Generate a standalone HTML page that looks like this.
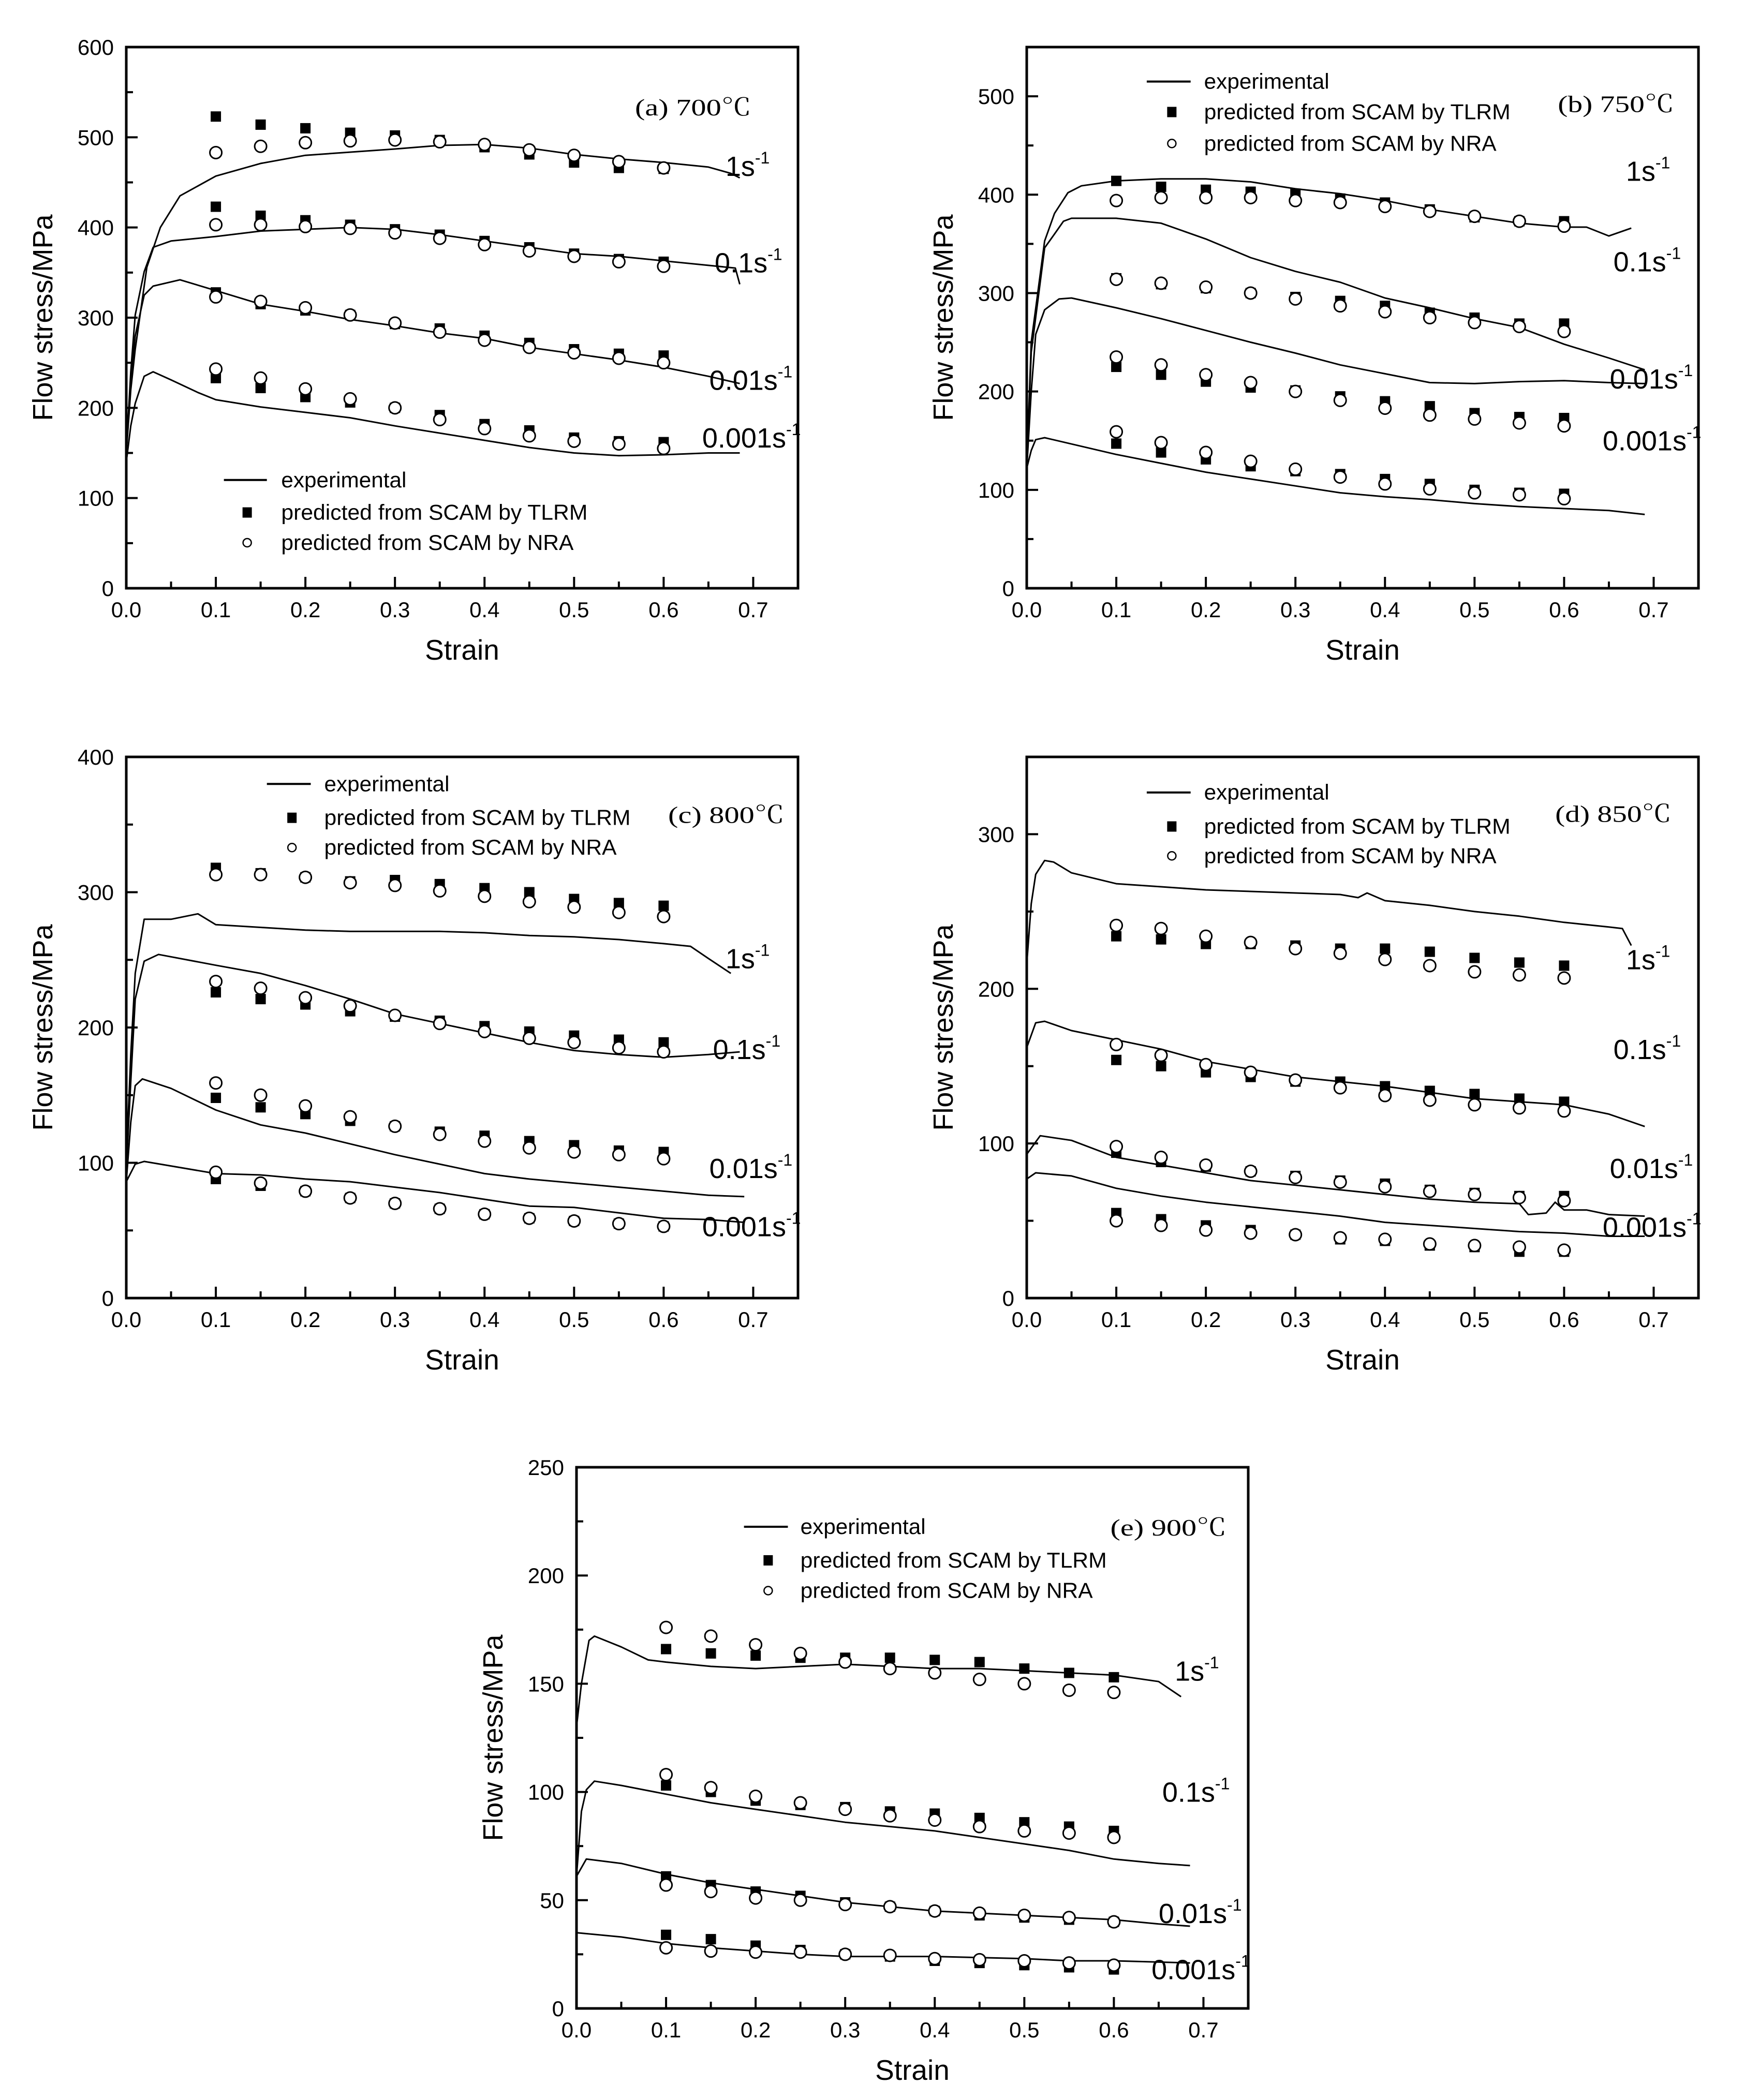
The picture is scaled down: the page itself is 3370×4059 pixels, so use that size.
<!DOCTYPE html>
<html><head><meta charset="utf-8">
<style>
html,body{margin:0;padding:0;background:#fff;}
svg{display:block;}
text{font-family:"Liberation Sans","Noto Sans CJK SC",sans-serif;fill:#000;}
.serif{font-family:"Liberation Serif","Noto Serif CJK SC",serif;}
</style></head>
<body>
<svg id="fig" xmlns="http://www.w3.org/2000/svg" width="3370" height="4059" viewBox="0 0 3370 4059"></svg>
<script>
// ---- shared data ----
const markerStrain = [0.1,0.15,0.2,0.25,0.3,0.35,0.4,0.45,0.5,0.55,0.6];
const xTicks = [0,0.1,0.2,0.3,0.4,0.5,0.6,0.7];
const xTickLabels = ["0.0","0.1","0.2","0.3","0.4","0.5","0.6","0.7"];
const rateLabels = ["1","0.1","0.01","0.001"];

// ---- panel (a) 700C ----
const a_r1_x = [0,0.005,0.01,0.023,0.038,0.06,0.1,0.15,0.2,0.3,0.35,0.4,0.45,0.5,0.55,0.6,0.65,0.675,0.685];
const a_r1_y = [150,220,265,356,400,435,457,471,480,487,491,492,488,481,476,472,467,460,455];
const a_r2_x = [0,0.005,0.01,0.02,0.03,0.05,0.1,0.15,0.2,0.25,0.3,0.35,0.4,0.45,0.5,0.55,0.6,0.65,0.68,0.685];
const a_r2_y = [150,240,303,351,378,385,390,396,398,400,398,392,385,378,371,368,363,358,355,337];
const a_r3_x = [0,0.005,0.01,0.02,0.03,0.06,0.1,0.15,0.2,0.25,0.3,0.35,0.4,0.45,0.5,0.55,0.6,0.65,0.685];
const a_r3_y = [150,230,280,325,335,342,330,315,307,298,291,283,277,267,260,253,245,235,227];
const a_r4_x = [0,0.005,0.01,0.02,0.03,0.05,0.08,0.1,0.15,0.2,0.25,0.3,0.35,0.4,0.45,0.5,0.55,0.6,0.65,0.685];
const a_r4_y = [140,180,205,235,240,231,217,209,201,195,189,180,172,164,156,150,147,148,150,150];
const a_tlrm = [[523,514,510,505,502,497,489,481,472,466,465],[423,413,408,403,398,392,385,378,371,365,362],[328,315,308,303,293,288,280,272,265,260,258],[233,222,212,206,200,192,182,175,167,163,162]];
const a_nra = [[483,490,494,496,497,495,492,486,480,473,466],[403,403,401,399,394,388,381,374,368,362,357],[323,318,311,303,294,284,275,267,261,255,250],[243,233,221,210,200,187,177,169,163,160,155]];
const a_yTicks = [0,100,200,300,400,500,600];

// ---- panel (b) 750C ----
const b_r1_x = [0,0.005,0.02,0.031,0.046,0.061,0.1,0.15,0.2,0.25,0.3,0.35,0.4,0.45,0.5,0.55,0.6,0.625,0.65,0.675];
const b_r1_y = [121,250,353,381,402,409,414,416,416,413,406,401,394,385,378,371,367,367,358,366];
const b_r2_x = [0,0.005,0.02,0.031,0.041,0.05,0.1,0.15,0.2,0.25,0.3,0.35,0.4,0.45,0.5,0.55,0.6,0.65,0.69];
const b_r2_y = [121,240,346,360,373,376,376,371,355,336,322,311,295,285,274,265,248,234,222];
const b_r3_x = [0,0.005,0.01,0.02,0.036,0.05,0.1,0.15,0.2,0.25,0.3,0.35,0.4,0.45,0.5,0.55,0.6,0.65,0.69];
const b_r3_y = [121,200,258,283,294,295,285,274,262,250,239,227,218,209,208,210,211,209,208];
const b_r4_x = [0,0.005,0.01,0.02,0.1,0.15,0.2,0.25,0.3,0.35,0.4,0.45,0.5,0.55,0.6,0.65,0.69];
const b_r4_y = [122,140,151,153,136,127,118,111,104,97,93,90,86,83,81,79,75];
const b_tlrm = [[414,408,405,403,401,396,392,385,377,373,373],[315,309,305,300,296,292,287,280,275,269,269],[225,217,210,204,201,195,190,185,178,174,173],[147,138,131,124,119,116,111,106,100,97,96]];
const b_nra = [[394,397,397,397,394,392,388,383,378,373,368],[314,310,306,300,294,287,281,275,270,266,261],[235,227,217,209,200,191,183,176,172,168,165],[159,148,138,129,121,113,106,101,97,95,91]];
const b_yTicks = [0,100,200,300,400,500];

// ---- panel (c) 800C ----
const c_r1_x = [0,0.005,0.01,0.02,0.05,0.08,0.1,0.15,0.2,0.25,0.3,0.35,0.4,0.45,0.5,0.55,0.6,0.63,0.65,0.675];
const c_r1_y = [100,180,240,280,280,284,276,274,272,271,271,271,270,268,267,265,262,260,251,240];
const c_r2_x = [0,0.005,0.01,0.02,0.036,0.1,0.15,0.2,0.25,0.3,0.35,0.4,0.45,0.5,0.55,0.6,0.65,0.685];
const c_r2_y = [95,160,221,249,254,246,240,231,221,210,203,196,189,183,180,178,180,182];
const c_r3_x = [0,0.005,0.01,0.018,0.05,0.1,0.15,0.2,0.25,0.3,0.35,0.4,0.45,0.5,0.55,0.6,0.65,0.69];
const c_r3_y = [86,130,157,162,155,139,128,122,114,106,99,92,88,85,82,79,76,75];
const c_r4_x = [0,0.01,0.02,0.1,0.15,0.2,0.25,0.3,0.35,0.4,0.45,0.5,0.55,0.6,0.65,0.69];
const c_r4_y = [86,99,101,92,91,88,86,82,78,73,68,67,63,59,58,56];
const c_tlrm = [[318,314,311,308,309,306,303,300,295,292,290],[226,221,217,212,208,205,201,197,194,191,189],[148,141,136,131,127,123,120,116,113,109,108],[88,83,79,74,70,66,62,59,57,55,53]];
const c_nra = [[313,313,311,307,305,301,297,293,289,285,282],[234,229,222,216,209,203,197,192,189,185,182],[159,150,142,134,127,121,116,111,108,106,103],[93,85,79,74,70,66,62,59,57,55,53]];
const c_yTicks = [0,100,200,300,400];

// ---- panel (d) 850C ----
const d_r1_x = [0,0.005,0.01,0.02,0.03,0.05,0.1,0.15,0.2,0.25,0.3,0.35,0.37,0.38,0.4,0.45,0.5,0.55,0.6,0.65,0.665,0.675];
const d_r1_y = [216,255,274,283,282,275,268,266,264,263,262,261,259,262,257,254,250,247,243,240,239,228];
const d_r2_x = [0,0.01,0.02,0.05,0.1,0.15,0.2,0.25,0.3,0.35,0.4,0.45,0.5,0.55,0.6,0.65,0.69];
const d_r2_y = [162,178,179,173,167,161,153,148,143,140,137,133,129,127,125,119,111];
const d_r3_x = [0,0.015,0.05,0.1,0.15,0.2,0.25,0.3,0.35,0.4,0.45,0.5,0.55,0.56,0.58,0.59,0.6,0.625,0.65,0.69];
const d_r3_y = [93,105,102,91,86,81,76,73,70,67,64,62,61,54,55,62,57,57,54,53];
const d_r4_x = [0,0.01,0.05,0.1,0.15,0.2,0.25,0.3,0.35,0.4,0.45,0.5,0.55,0.6,0.65,0.69];
const d_r4_y = [77,81,79,71,66,62,59,56,53,49,47,45,43,42,40,40];
const d_tlrm = [[234,232,229,229,228,226,226,224,220,217,215],[154,150,146,143,140,140,137,134,132,129,127],[94,88,85,82,79,76,74,70,68,66,66],[55,51,47,44,41,38,37,34,33,30,30]];
const d_nra = [[241,239,234,230,226,223,219,215,211,209,207],[164,157,151,146,141,136,131,128,125,123,121],[98,91,86,82,78,75,72,69,67,65,63],[50,47,44,42,41,39,38,35,34,33,31]];
const d_yTicks = [0,100,200,300];

// ---- panel (e) 900C ----
const e_r1_x = [0,0.0055,0.014,0.02,0.05,0.08,0.1,0.15,0.2,0.25,0.3,0.35,0.4,0.45,0.5,0.55,0.6,0.65,0.675];
const e_r1_y = [130,150,170,172,167,161,160,158,157,158,159,158,157,157,156,155,154,151,144];
const e_r2_x = [0,0.0055,0.011,0.02,0.05,0.1,0.15,0.2,0.25,0.3,0.35,0.4,0.45,0.5,0.55,0.6,0.65,0.685];
const e_r2_y = [61,91,101,105,103,99,95,92,89,86,84,82,79,76,73,69,67,66];
const e_r3_x = [0,0.011,0.05,0.1,0.15,0.2,0.25,0.3,0.35,0.4,0.45,0.5,0.55,0.6,0.65,0.685];
const e_r3_y = [61,69,67,62,58,55,52,49,47,45,44,43,42,41,39,38];
const e_r4_x = [0,0.05,0.1,0.15,0.2,0.25,0.3,0.35,0.4,0.45,0.5,0.55,0.6,0.685];
const e_r4_y = [35,33,30,28,26.5,25,24,24,24,23.5,23,22,22,21];
const e_tlrm = [[166,164,163,162,162,162,161,160,157,155,153],[103,100,96,94,93,91,90,88,86,84,82],[61,57,54,52,49,47,45,43,42,41,40],[34,32,29,27,25,24,22,21,20,19,18]];
const e_nra = [[176,172,168,164,160,157,155,152,150,147,146],[108,102,98,95,92,89,87,84,82,81,79],[57,54,51,50,48,47,45,44,43,42,40],[28,26.5,26,26,25,24.5,23,22.5,22,21,20]];
const e_yTicks = [0,50,100,150,200,250];

const NS = "http://www.w3.org/2000/svg";
const svg = document.getElementById("fig");
const W = 1298, H = 1046, XMAX = 0.75;

function el(tag, attrs, parent){
  const e = document.createElementNS(NS, tag);
  for (const k in attrs) e.setAttribute(k, attrs[k]);
  parent.appendChild(e);
  return e;
}

const panels = [
  {id:"a", temp:"700℃", left:244, top:91, ymax:600, minor:50, yTicks:a_yTicks,
   curves:[[a_r1_x,a_r1_y],[a_r2_x,a_r2_y],[a_r3_x,a_r3_y],[a_r4_x,a_r4_y]], tlrm:a_tlrm, nra:a_nra,
   rl:[[0.669,468],[0.657,361],[0.651,231],[0.643,167]],
   leg:{x1:0.109,x2:0.157,mx:0.135,tx:0.173,y1:120,y2:84,y3:50.5}, lab:[0.568,533]},
  {id:"b", temp:"750℃", left:1984, top:91, ymax:550, minor:50, yTicks:b_yTicks,
   curves:[[b_r1_x,b_r1_y],[b_r2_x,b_r2_y],[b_r3_x,b_r3_y],[b_r4_x,b_r4_y]], tlrm:b_tlrm, nra:b_nra,
   rl:[[0.669,424],[0.655,332],[0.651,213],[0.643,150]],
   leg:{x1:0.134,x2:0.183,mx:0.162,tx:0.198,y1:515,y2:484,y3:452}, lab:[0.593,492]},
  {id:"c", temp:"800℃", left:244, top:1463, ymax:400, minor:50, yTicks:c_yTicks,
   curves:[[c_r1_x,c_r1_y],[c_r2_x,c_r2_y],[c_r3_x,c_r3_y],[c_r4_x,c_r4_y]], tlrm:c_tlrm, nra:c_nra,
   rl:[[0.669,251],[0.655,184],[0.651,96],[0.643,53]],
   leg:{x1:0.157,x2:0.206,mx:0.185,tx:0.221,y1:380,y2:355,y3:333}, lab:[0.605,357]},
  {id:"d", temp:"850℃", left:1984, top:1463, ymax:350, minor:50, yTicks:d_yTicks,
   curves:[[d_r1_x,d_r1_y],[d_r2_x,d_r2_y],[d_r3_x,d_r3_y],[d_r4_x,d_r4_y]], tlrm:d_tlrm, nra:d_nra,
   rl:[[0.669,219],[0.655,161],[0.651,84],[0.643,46]],
   leg:{x1:0.134,x2:0.183,mx:0.162,tx:0.198,y1:327,y2:305,y3:286}, lab:[0.59,313]},
  {id:"e", temp:"900℃", left:1114, top:2836, ymax:250, minor:25, yTicks:e_yTicks,
   curves:[[e_r1_x,e_r1_y],[e_r2_x,e_r2_y],[e_r3_x,e_r3_y],[e_r4_x,e_r4_y]], tlrm:e_tlrm, nra:e_nra,
   rl:[[0.668,156],[0.654,100],[0.65,44],[0.642,18]],
   leg:{x1:0.187,x2:0.236,mx:0.214,tx:0.25,y1:222.5,y2:207,y3:193}, lab:[0.596,222]}
];

panels.forEach(p => {
  const sx = v => p.left + v / XMAX * W;
  const sy = v => p.top + H - v / p.ymax * H;
  const g = el("g", {}, svg);
  
  

  // frame
  const fr = el("rect", {x:p.left, y:p.top, width:W, height:H, fill:"none", stroke:"#000", "stroke-width":5}, g);
  
  

  // x ticks
  for (let i = 0; i <= 15; i++) {
    const v = i * 0.05;
    const len = (i % 2 === 0) ? 22 : 13;
    const t = el("line", {x1:sx(v), x2:sx(v), y1:p.top+H, y2:p.top+H-len, stroke:"#000", "stroke-width":4}, g);
    
    
  }
  xTicks.forEach((v, i) => {
    const t = el("text", {x:sx(v), y:p.top+H+56, "font-size":42, "text-anchor":"middle"}, g);
    t.textContent = xTickLabels[i];
    
    
  });
  // y ticks
  for (let v = 0; v <= p.ymax + 0.001; v += p.minor) {
    const major = p.yTicks.includes(v);
    const t = el("line", {x1:p.left, x2:p.left + (major ? 22 : 13), y1:sy(v), y2:sy(v), stroke:"#000", "stroke-width":4}, g);
    
    
  }
  p.yTicks.forEach(v => {
    const t = el("text", {x:p.left-24, y:sy(v)+15, "font-size":42, "text-anchor":"end"}, g);
    t.textContent = String(v);
    
    
  });
  // axis titles
  const xt = el("text", {x:p.left + W*0.5, y:p.top+H+138, "font-size":55, "text-anchor":"middle"}, g);
  xt.textContent = "Strain";
  
  
  const yx = p.left - 143, yy = p.top + H/2;
  const yt = el("text", {x:yx, y:yy, "font-size":54, "text-anchor":"middle", transform:`rotate(-90 ${yx} ${yy})`}, g);
  yt.textContent = "Flow stress/MPa";
  
  

  // curves
  p.curves.forEach((c, ci) => {
    const pts = c[0].map((x, i) => sx(x).toFixed(1) + "," + sy(c[1][i]).toFixed(1)).join(" ");
    const pl = el("polyline", {points:pts, fill:"none", stroke:"#000", "stroke-width":3, "stroke-linejoin":"round"}, g);
    
    
  });
  // markers
  p.tlrm.forEach((arr, ci) => {
    arr.forEach((v, i) => {
      const r = el("rect", {x:sx(markerStrain[i])-10, y:sy(v)-10, width:20, height:20, fill:"#000"}, g);
      
      
    });
  });
  p.nra.forEach((arr, ci) => {
    arr.forEach((v, i) => {
      const c = el("circle", {cx:sx(markerStrain[i]), cy:sy(v), r:11.5, fill:"#fff", stroke:"#000", "stroke-width":3}, g);
      
      
    });
  });
  // rate labels
  p.rl.forEach((r, i) => {
    const t = el("text", {x:sx(r[0]), y:sy(r[1])+19, "font-size":54}, g);
    
    
    const a = el("tspan", {}, t); a.textContent = rateLabels[i] + "s";
    const b = el("tspan", {"font-size":32, dy:-24}, t); b.textContent = "-1";
  });
  // panel label
  const pl = el("text", {x:sx(p.lab[0]), y:sy(p.lab[1])+15, "font-size":46, class:"serif", textLength:225, lengthAdjust:"spacingAndGlyphs"}, g);
  pl.textContent = "(" + p.id + ")  " + p.temp;
  
  

  // legend
  const L = p.leg;
  const lg = el("g", {}, g);
  
  
  const ll = el("line", {x1:sx(L.x1), x2:sx(L.x2), y1:sy(L.y1), y2:sy(L.y1), stroke:"#000", "stroke-width":4}, lg);
  
  
  const lsq = el("rect", {x:sx(L.mx)-9, y:sy(L.y2)-10, width:18, height:20, fill:"#000"}, lg);
  
  
  const lci = el("circle", {cx:sx(L.mx), cy:sy(L.y3), r:8, fill:"#fff", stroke:"#000", "stroke-width":2.5}, lg);
  
  
  const texts = [["experimental", L.y1, 242], ["predicted from SCAM by TLRM", L.y2, 592], ["predicted from SCAM by NRA", L.y3, 565]];
  texts.forEach(tt => {
    const t = el("text", {x:sx(L.tx), y:sy(tt[1])+14, "font-size":42, textLength:tt[2], lengthAdjust:"spacingAndGlyphs"}, lg);
    t.textContent = tt[0];
    
    
  });
});
</script>
</body></html>
